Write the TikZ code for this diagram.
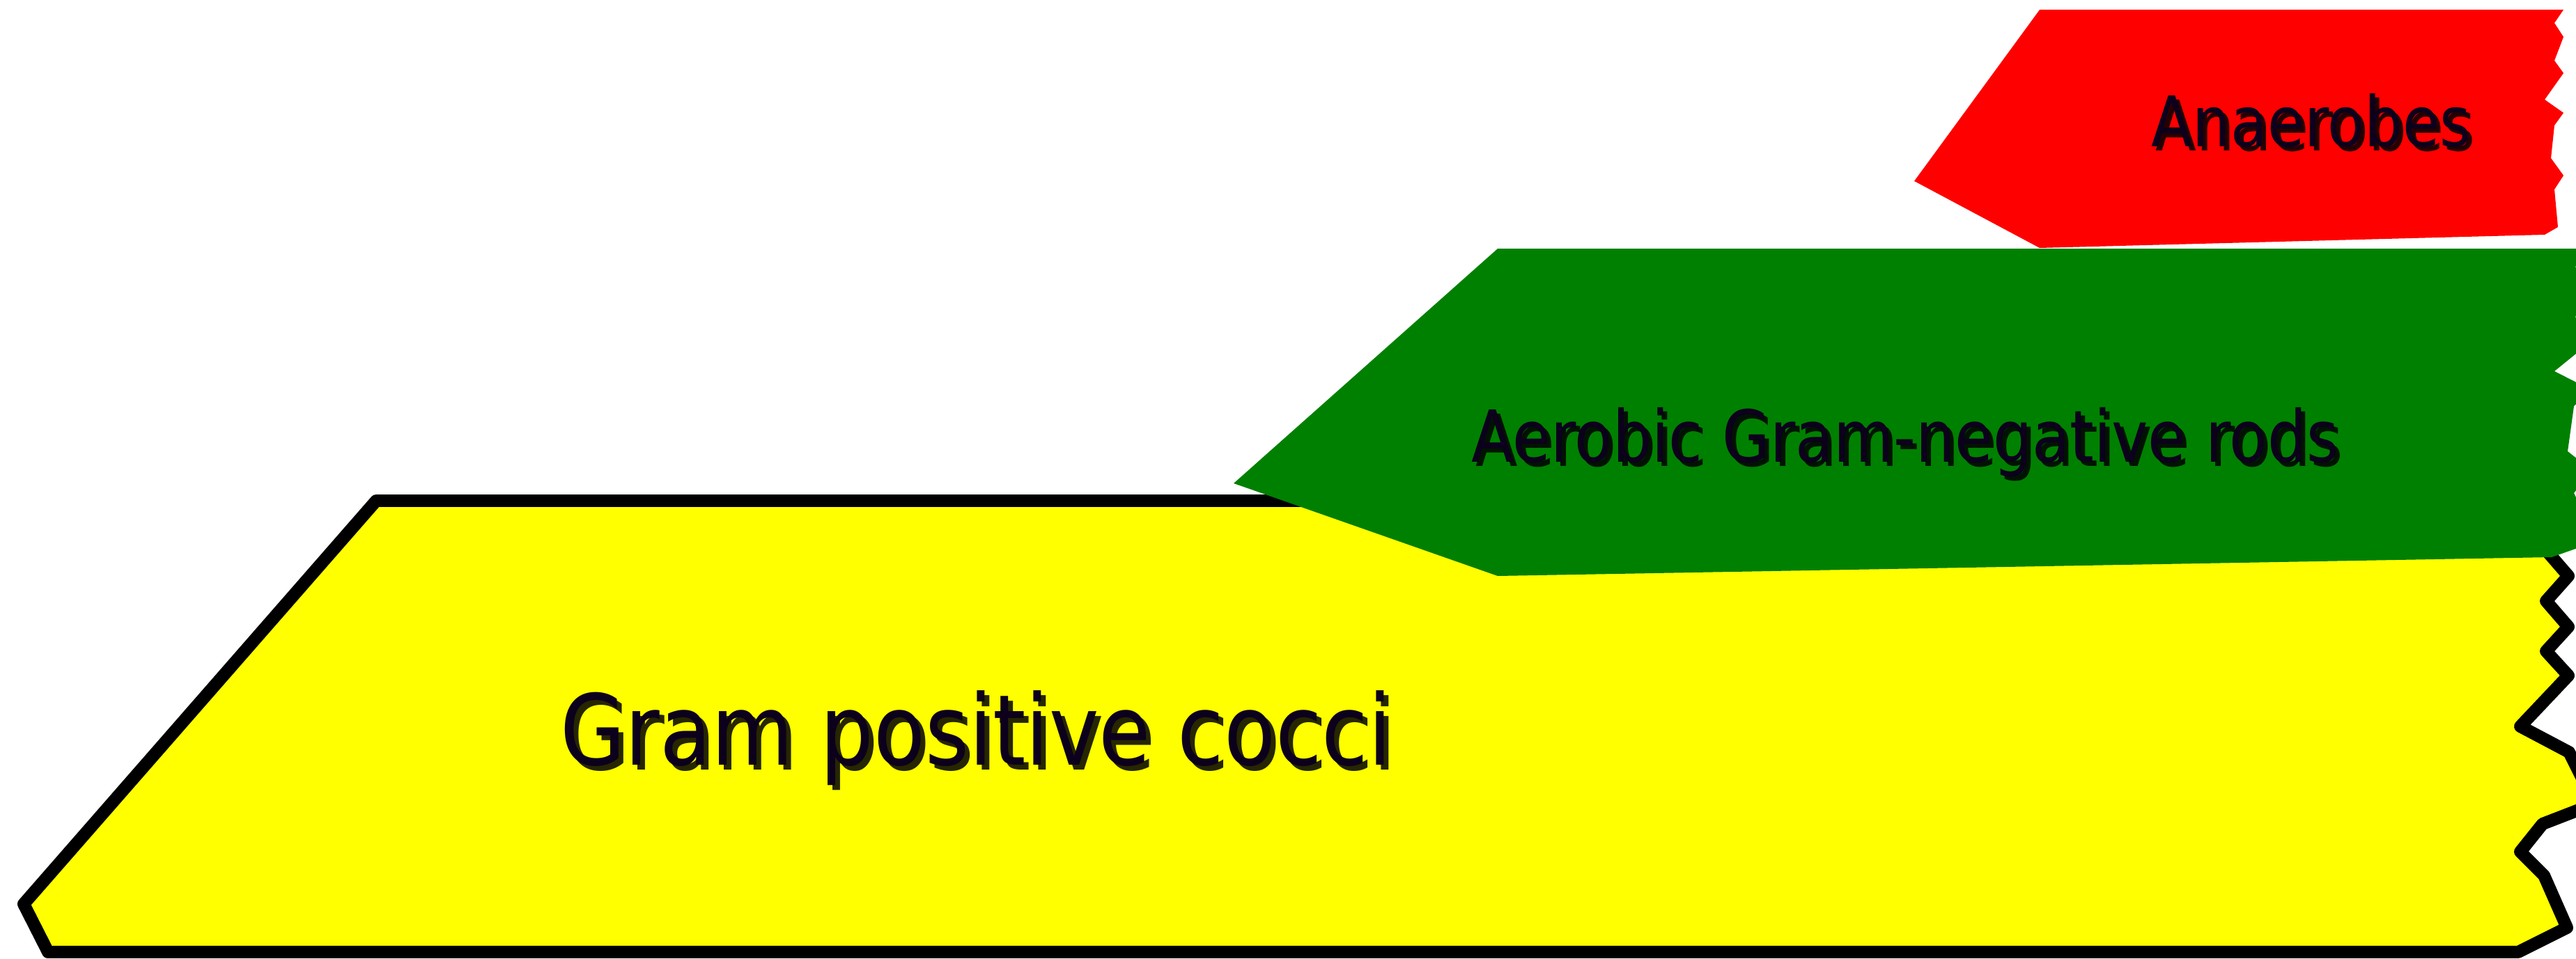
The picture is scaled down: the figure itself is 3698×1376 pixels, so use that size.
\documentclass[tikz,border=0pt]{standalone}
\usepackage{fontspec}
\newfontfamily\labfont[FakeStretch=0.86]{DejaVu Sans}
\definecolor{gyellow}{RGB}{255,255,0}
\definecolor{ggreen}{RGB}{0,128,0}
\definecolor{gred}{RGB}{255,0,0}
\definecolor{labink}{RGB}{12,0,28}
\tikzset{
  labtext/.style={inner sep=0pt, anchor=base, text=labink},
  labshadow/.style={inner sep=0pt, anchor=base, text=black, opacity=0.85},
  bigfont/.style={font=\labfont\fontsize{40pt}{48pt}\selectfont},
  midfont/.style={font=\labfont\fontsize{29.3pt}{35pt}\selectfont},
  smallfont/.style={font=\labfont\fontsize{28.5pt}{34pt}\selectfont},
  yellowband/.style={fill=gyellow, draw=black, line width=5.1pt, line join=round},
  greenband/.style={fill=ggreen},
  redband/.style={fill=gred}
}
\begin{document}
\begin{tikzpicture}[x=0.01cm,y=-0.01cm]
\clip (0,0) rectangle (3698,1376);
\fill[white] (0,0) rectangle (3698,1376);
% yellow band
\draw[yellowband] (540,719) -- (34,1298) -- (69,1367) -- (3615,1367) -- (3685,1332)
  -- (3652,1257) -- (3618,1223) -- (3650,1183) -- (3725,1154) -- (3688,1080)
  -- (3618,1043) -- (3687,970) -- (3655,935) -- (3687,900) -- (3655,863)
  -- (3687,827) -- (3655,790) -- (3687,755) -- (3660,719) -- cycle;
% green band
\fill[greenband] (2150,357) -- (3720,357) -- (3697,383) -- (3720,420) -- (3697,455)
  -- (3720,490) -- (3667,533) -- (3720,560) -- (3695,583) -- (3686,648)
  -- (3720,675) -- (3695,708) -- (3720,760) -- (3720,780) -- (3663,800)
  -- (2150,827) -- (1771,694) -- cycle;
% red band
\fill[redband] (2928,14) -- (3680,14) -- (3667,33) -- (3680,53) -- (3667,87)
  -- (3680,105) -- (3653,143) -- (3680,162) -- (3667,180) -- (3662,227)
  -- (3680,252) -- (3667,272) -- (3672,326) -- (3653,337) -- (2928,356)
  -- (2748,260) -- cycle;
% labels with drop shadows
\node[labshadow, bigfont] (gpcs) at (1408,1105) {Gram positive cocci};
\node[labtext, bigfont] (gpc) at (1401,1098) {Gram positive cocci};
\node[labshadow, midfont] (agnrs) at (2741,669) {Aerobic Gram-negative rods};
\node[labtext, midfont] (agnr) at (2735,663) {Aerobic Gram-negative rods};
\node[labshadow, smallfont] (anaers) at (3324,216) {Anaerobes};
\node[labtext, smallfont] (anaer) at (3318,210) {Anaerobes};
\end{tikzpicture}
\end{document}
